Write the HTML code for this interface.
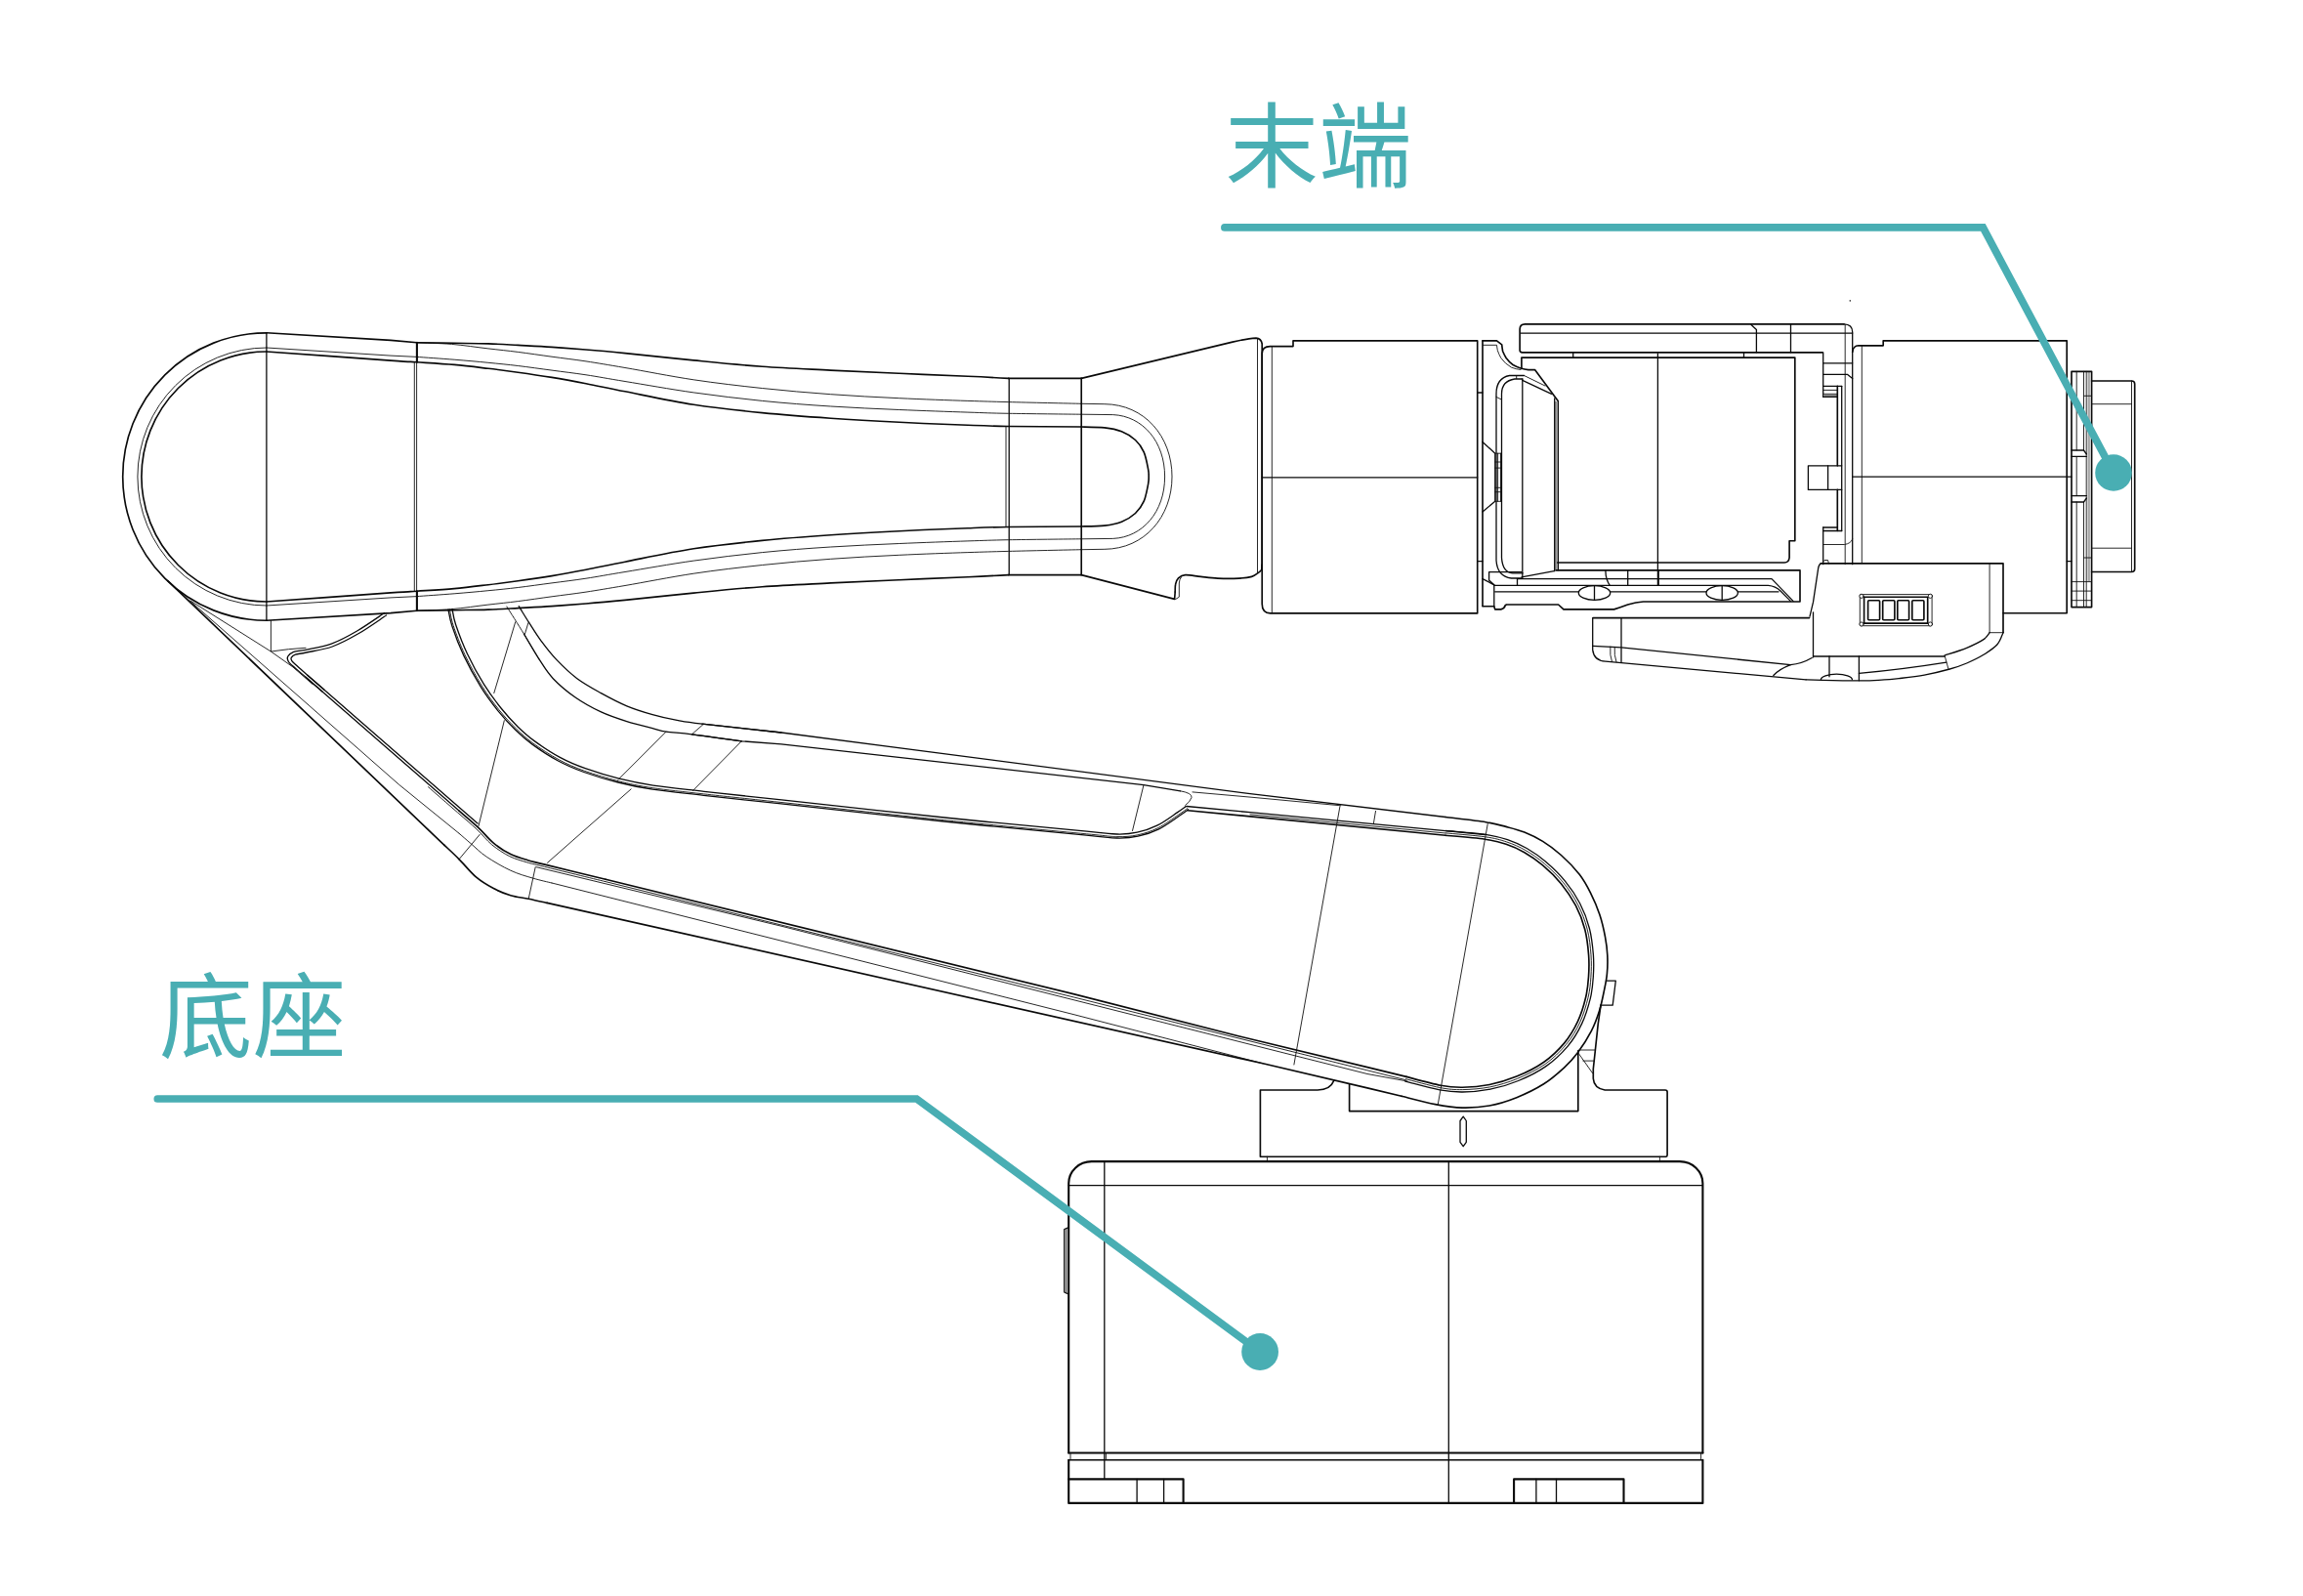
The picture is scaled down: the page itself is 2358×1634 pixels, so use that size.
<!DOCTYPE html>
<html lang="zh">
<head>
<meta charset="utf-8">
<title>末端 底座</title>
<style>
html,body{margin:0;padding:0;background:#fff;}
body{width:2358px;height:1634px;overflow:hidden;position:relative;font-family:"Liberation Sans","Noto Sans CJK SC",sans-serif;}
svg{position:absolute;left:0;top:0;}
.lbl{position:absolute;color:#49aeb3;font-size:95.8px;line-height:1;white-space:nowrap;font-weight:400;}
#l1{left:1254.2px;top:103.6px;}
#l2{left:163px;top:994.6px;}
.k{fill:none;stroke:#0a0a0a;stroke-width:1.65;stroke-linecap:round;stroke-linejoin:round;}
.b{fill:none;stroke:#0a0a0a;stroke-width:2.1;stroke-linecap:round;stroke-linejoin:round;}
.m{fill:none;stroke:#0a0a0a;stroke-width:1.3;stroke-linecap:round;stroke-linejoin:round;}
.t{fill:none;stroke:#111;stroke-width:0.9;stroke-linecap:round;stroke-linejoin:round;}
.c{fill:none;stroke:#49aeb3;stroke-width:7.7;stroke-linecap:round;stroke-linejoin:miter;}
</style>
</head>
<body>
<svg width="2358" height="1634" viewBox="0 0 2358 1634">
<g id="robot">
<!-- forearm -->
<path class="k" d="M272.9 340.8 L400 348.4 L426.9 350.8"/>
<path class="k" d="M272.9 635.2 L400 627.6 L426.9 625.2"/>
<path class="k" d="M426.9 350.8C433.3 350.9 452.9 351.1 465.1 351.3C477.3 351.5 489 351.5 499.9 351.9C510.8 352.2 519.4 352.8 530.3 353.4C541.1 354 553.4 354.6 565 355.4C576.6 356.2 587.5 357 600 358C612.5 359 621.6 359.8 640 361.6C658.4 363.4 686.8 366.6 710.2 368.9C733.6 371.2 757 373.6 780.4 375.3C803.8 377 827.1 377.9 850.5 379.1C873.9 380.3 897.3 381.3 920.7 382.3C944.1 383.3 972.2 384.5 990.9 385.3C1009.5 386.1 1025.6 387 1032.6 387.4"/>
<path class="k" d="M426.9 625.2C433.3 625.1 452.9 624.9 465.1 624.7C477.3 624.5 489 624.5 499.9 624.1C510.8 623.8 519.4 623.2 530.3 622.6C541.1 622 553.4 621.4 565 620.6C576.6 619.8 587.5 619 600 618C612.5 617 621.6 616.2 640 614.4C658.4 612.6 686.8 609.4 710.2 607.1C733.6 604.8 757 602.4 780.4 600.7C803.8 599 827.1 598.1 850.5 596.9C873.9 595.7 897.3 594.7 920.7 593.7C944.1 592.7 972.2 591.6 990.9 590.7C1009.5 589.9 1025.6 589 1032.6 588.6"/>
<path class="k" d="M1032.6 387.4 L1107.2 387.4"/>
<path class="k" d="M1032.6 588.6 L1107.2 588.6"/>
<path class="k" d="M272.9 340.8A147.2 147.2 0 0 0 272.9 635.2"/>
<path class="k" d="M272.9 360C294.1 361.5 374.3 367.3 400 369.1C425.7 370.9 416 370.1 426.9 370.8C437.8 371.5 452.9 372.3 465.1 373.4C477.3 374.5 489 376 499.9 377.3C510.8 378.6 519.4 379.7 530.3 381.2C541.1 382.7 553.4 384.5 565 386.4C576.6 388.3 587.5 390.3 600 392.7C612.5 395.1 621.6 397.2 640 400.8C658.4 404.4 686.8 410.6 710.2 414.2C733.6 417.8 757 420.3 780.4 422.6C803.8 424.9 827.1 426.6 850.5 428.2C873.9 429.8 897.3 431.1 920.7 432.3C944.1 433.5 972.2 434.6 990.9 435.3C1009.5 436 1013.2 436.2 1032.6 436.5C1052 436.8 1094.8 436.9 1107.2 437"/>
<path class="k" d="M272.9 616C294.1 614.5 374.3 608.7 400 606.9C425.7 605.1 416 605.9 426.9 605.2C437.8 604.5 452.9 603.7 465.1 602.6C477.3 601.5 489 600 499.9 598.7C510.8 597.4 519.4 596.3 530.3 594.8C541.1 593.3 553.4 591.5 565 589.6C576.6 587.7 587.5 585.7 600 583.3C612.5 580.9 621.6 578.8 640 575.2C658.4 571.6 686.8 565.4 710.2 561.8C733.6 558.2 757 555.7 780.4 553.4C803.8 551.1 827.1 549.4 850.5 547.8C873.9 546.2 897.3 544.9 920.7 543.7C944.1 542.5 972.2 541.4 990.9 540.7C1009.5 540 1013.2 539.8 1032.6 539.5C1052 539.2 1094.8 539.1 1107.2 539"/>
<path class="k" d="M272.9 360A128 128 0 0 0 272.9 616"/>
<path class="k" d="M1107.2 437C1111.2 437.1 1124 437.1 1130.9 437.9C1137.8 438.7 1143.1 439.7 1148.4 441.8C1153.7 443.9 1158.7 447 1162.5 450.5C1166.3 454 1169 457.8 1171.2 462.8C1173.4 467.8 1174.8 476.2 1175.6 480.4C1176.4 484.6 1176.2 485.5 1176.2 488C1176.2 490.5 1176.4 491.4 1175.6 495.6C1174.8 499.8 1173.4 508.2 1171.2 513.2C1169 518.2 1166.3 522 1162.5 525.5C1158.7 529 1153.7 532.1 1148.4 534.2C1143.1 536.3 1137.8 537.3 1130.9 538.1C1124 538.9 1111.2 538.9 1107.2 539"/>
<path class="t" d="M272.9 356 L400 364.1 L426.9 365.4"/>
<path class="t" d="M272.9 620 L400 611.9 L426.9 610.6"/>
<path class="t" d="M272.9 356A132 132 0 0 0 272.9 620"/>
<path class="t" d="M426.9 350.9C432.8 351.1 450.3 351.4 462.5 352.4C474.7 353.4 488.6 355.6 499.9 356.9C511.2 358.2 519.4 359 530.3 360.4C541.1 361.8 553.4 363.6 565 365.2C576.6 366.8 587.5 368 600 369.9C612.5 371.8 621.6 373.4 640 376.5C658.4 379.6 686.8 385.3 710.2 388.8C733.6 392.3 757 395 780.4 397.5C803.8 400 827.1 402 850.5 403.7C873.9 405.4 897.3 406.6 920.7 407.7C944.1 408.8 972.2 409.8 990.9 410.4C1009.5 411 1013.2 411.1 1032.6 411.6C1052 412.1 1094.8 413 1107.2 413.3"/>
<path class="t" d="M426.9 625.1C432.8 624.9 450.3 624.6 462.5 623.6C474.7 622.6 488.6 620.4 499.9 619.1C511.2 617.8 519.4 617 530.3 615.6C541.1 614.2 553.4 612.4 565 610.8C576.6 609.2 587.5 608 600 606.1C612.5 604.2 621.6 602.6 640 599.5C658.4 596.4 686.8 590.7 710.2 587.2C733.6 583.7 757 581 780.4 578.5C803.8 576 827.1 574 850.5 572.3C873.9 570.6 897.3 569.4 920.7 568.3C944.1 567.2 972.2 566.2 990.9 565.6C1009.5 565 1013.2 564.9 1032.6 564.4C1052 563.9 1094.8 563 1107.2 562.7"/>
<path class="t" d="M426.9 365.4C433.3 365.9 452.9 367.2 465.1 368.2C477.3 369.2 489 370.2 499.9 371.3C510.8 372.4 519.4 373.2 530.3 374.5C541.1 375.8 553.4 377.6 565 379.1C576.6 380.7 587.5 381.9 600 383.8C612.5 385.7 621.6 387.5 640 390.5C658.4 393.5 686.8 398.6 710.2 401.9C733.6 405.2 757 408 780.4 410.4C803.8 412.8 827.1 414.5 850.5 416C873.9 417.5 897.3 418.5 920.7 419.5C944.1 420.5 972.2 421.5 990.9 422.1C1009.5 422.7 1013.2 423 1032.6 423.3C1052 423.6 1094.8 424.1 1107.2 424.2"/>
<path class="t" d="M426.9 610.6C433.3 610.1 452.9 608.8 465.1 607.8C477.3 606.8 489 605.8 499.9 604.7C510.8 603.7 519.4 602.8 530.3 601.5C541.1 600.2 553.4 598.4 565 596.9C576.6 595.4 587.5 594.1 600 592.2C612.5 590.3 621.6 588.5 640 585.5C658.4 582.5 686.8 577.4 710.2 574.1C733.6 570.8 757 568 780.4 565.6C803.8 563.2 827.1 561.5 850.5 560C873.9 558.5 897.3 557.5 920.7 556.5C944.1 555.5 972.2 554.5 990.9 553.9C1009.5 553.3 1013.2 553.1 1032.6 552.7C1052 552.4 1094.8 551.9 1107.2 551.8"/>
<path class="t" d="M1107.2 413.3L1130.9 413.7C1172 414 1200 447 1200 488C1200 529 1172 562 1130.9 562.3L1107.2 562.7"/>
<path class="t" d="M1107.2 424.2L1139.6 424.6C1170 426 1192.6 452 1192.6 488C1192.6 524 1170 550 1139.6 551.4L1107.2 551.8"/>
<path class="m" d="M272.9 340.8 L272.9 635.2"/>
<path class="t" d="M424.3 370.8 L424.3 605.2"/>
<path class="t" d="M426.6 370.8 L426.6 605.2"/>
<path class="b" d="M426.9 350.8 L426.9 370.8"/>
<path class="b" d="M426.9 605.2 L426.9 625.2"/>
<path class="t" d="M1030 436.5 L1030 539.5"/>
<path class="m" d="M1033.2 387.4 L1033.2 588.6"/>
<path class="k" d="M1107.2 387.4 L1107.2 588.6"/>
<path class="k" d="M1107.2 387.4L1262 350.1Q1277 346.6 1286 346.1Q1291.3 346.3 1292.2 352L1292.2 582"/>
<path class="k" d="M1292.2 578C1292.1 578.9 1292.3 581.9 1291.6 583.4C1290.8 584.9 1289.4 585.7 1287.7 586.9C1286 588.1 1284.8 589.5 1281.6 590.4C1278.4 591.3 1274.4 591.8 1268.6 592.1C1262.8 592.4 1253.3 592.4 1246.8 592.1C1240.3 591.8 1235 591 1229.5 590.4C1224 589.8 1217.6 588.4 1213.8 588.6C1210 588.8 1208.2 590.2 1206.5 591.8C1204.8 593.4 1204.1 595.8 1203.6 598.2C1203 600.6 1203.3 604.7 1203.2 606"/>
<path class="k" d="M1203.2 606 L1202.6 613.4 L1107.2 588.6"/>
<path class="t" d="M1287.5 346.5 L1287.5 586.5"/>
<path class="t" d="M1209.5 590.8Q1207.5 593 1207.3 597L1207.3 611.2L1203.5 613.6"/>
<!-- motor1 -->
<path class="k" d="M1292.2 361.6Q1292.5 354.6 1300.4 354.6L1324 354.6L1324 348.9L1512.7 348.9L1512.7 627.9L1300.7 627.9Q1292.2 627.5 1292.2 618.2L1292.2 361.6"/>
<path class="t" d="M1302.3 354.6 L1302.3 627.9"/>
<path class="m" d="M1292.2 488.8 L1512.7 488.8"/>
<path class="m" d="M1512.7 402 L1518 402"/>
<path class="m" d="M1512.7 574.7 L1518 574.7"/>
<!-- connector -->
<path class="k" d="M1518 348.9 L1518 620.5"/>
<path class="k" d="M1518 348.9L1532.5 348.9L1537.7 352.9Q1538 356 1538.6 359.5Q1540 363 1542.1 366.5Q1545 370.5 1549.1 373.5Q1553 375.7 1557 377Q1561 378.2 1564.9 378.6L1571.5 378.6L1595.2 410.4L1595.2 583.7"/>
<path class="t" d="M1518.5 353.3L1532.5 353.3Q1532.8 356 1533.3 358.6Q1534.5 362.5 1536.8 366.5Q1541 372.5 1547.4 376.1Q1552 378 1557 378.5"/>
<path d="M1593.4 411V583" fill="none" stroke="#9a9a9a" stroke-width="3"/>
<path class="m" d="M1591.7 408 L1591.7 584.7"/>
<path class="m" d="M1560.5 384.5L1545.6 384.5Q1532 387 1532 403.3L1532 573.7Q1533 590 1547.4 592L1558.4 592"/>
<path class="m" d="M1558.8 388L1550.9 388Q1537.5 390 1537.5 403.3L1537.5 571Q1538.5 586 1548.7 586.8L1559.2 586.8"/>
<path class="m" d="M1558.8 388 L1558.8 591.6"/>
<path class="t" d="M1560.5 384.5 L1582 395"/>
<path class="m" d="M1558.8 389.3 L1588.6 403.3"/>
<path class="t" d="M1532 406.4 L1537.3 409"/>
<path class="t" d="M1552.7 384.8 L1552.7 387.6"/>
<path class="m" d="M1557.9 590.9 L1591.2 584.7"/>
<path class="m" d="M1518 452.5L1530.8 464.2L1530.8 513.3L1518 523.9"/>
<path class="t" d="M1533.6 464.2 L1533.6 513.3"/>
<path class="t" d="M1536.5 464.2 L1536.5 513.3"/>
<path class="t" d="M1530.8 464.2 L1536.5 464.2"/>
<path class="t" d="M1530.8 473 L1536.5 473"/>
<path class="t" d="M1530.8 479.1 L1536.5 479.1"/>
<path class="t" d="M1530.8 499.3 L1536.5 499.3"/>
<path class="t" d="M1530.8 503.7 L1536.5 503.7"/>
<path class="t" d="M1530.8 513.3 L1536.5 513.3"/>
<!-- block -->
<path class="k" d="M1557.9 377L1557.9 366.1L1837.8 366.1L1837.8 553.7L1832.1 553.7L1832.1 571Q1831.5 576 1827 576L1594.7 576"/>
<path class="m" d="M1697.4 362 L1697.4 598.7"/>
<path class="m" d="M1610.7 360.8 L1610.7 366.1"/>
<path class="m" d="M1785.5 360.8 L1785.5 366.1"/>
<!-- topplate -->
<path class="k" d="M1866 360.8L1558.5 360.8Q1556.1 360.8 1556.1 358.5L1556.1 337Q1556.1 331.8 1561.5 331.8L1888 331.8"/>
<path class="m" d="M1888 331.8Q1896.7 332 1896.7 340L1896.7 577.7"/>
<path class="m" d="M1557 341.1 L1896.7 341.1"/>
<path class="m" d="M1793 332.5L1798.4 337.5L1798.4 360.8"/>
<path class="m" d="M1833.5 332 L1833.5 360.8"/>
<path class="t" d="M1889.2 332.3 L1889.2 577.7"/>
<!-- rightcol -->
<path class="m" d="M1866.7 360.8 L1866.7 406.4"/>
<path class="m" d="M1866.7 371.8 L1896.7 371.8"/>
<path class="m" d="M1866.7 383.3L1891.4 383.3L1896.7 387.5"/>
<path class="m" d="M1866.7 395.4 L1885.7 395.4"/>
<path class="t" d="M1866.7 399.4 L1881 399.4"/>
<path class="t" d="M1866.7 403.3 L1881 403.3"/>
<path d="M1867 405H1881" fill="none" stroke="#8a8a8a" stroke-width="2.2"/>
<path class="m" d="M1866.7 406.4 L1881.3 406.4"/>
<path class="k" d="M1881.3 395.4 L1881.3 476.8"/>
<path class="k" d="M1881.3 501.4 L1881.3 543.5"/>
<path class="m" d="M1885.7 395.4 L1885.7 543.5"/>
<path class="m" d="M1885.7 476.8L1851.4 476.8L1851.4 501.4L1885.7 501.4"/>
<path class="m" d="M1871.6 476.8 L1871.6 501.4"/>
<circle cx="1894.3" cy="307.9" r="0.8" fill="#333"/>
<path class="m" d="M1866.7 540 L1881.3 540"/>
<path class="m" d="M1866.7 543.5 L1885.7 543.5"/>
<path class="m" d="M1866.7 540 L1866.7 577.7"/>
<path class="t" d="M1866.7 557.5L1888.6 557.5Q1895 556.5 1896.7 552"/>
<path class="t" d="M1866.7 575L1868 573.5L1871.5 573.5L1872.5 577"/>
<!-- rail -->
<path class="k" d="M1518 620.7L1529.8 620.7L1530.7 623.9L1536.8 623.9Q1540.5 623 1541.2 619.8L1542.5 619L1595.6 619L1600.9 623.9L1652.6 623.9Q1660 621.5 1666.7 619Q1675 616.3 1682.5 616L1843 616L1843 584.7"/>
<path class="m" d="M1557.9 585.6L1524.6 585.6L1524.6 594L1529.8 598.8L1529.8 620.7"/>
<path class="m" d="M1518 592.6 L1529.8 598.8"/>
<path class="k" d="M1593 583.9 L1843 583.9"/>
<path class="m" d="M1553.5 592.6 L1814 592.6 L1836 615.4"/>
<path class="m" d="M1529.8 599.3L1810.5 599.3Q1818 600 1823 605L1833.3 615.4"/>
<path class="m" d="M1530.7 605.8 L1616.3 605.8"/>
<path class="m" d="M1648.7 605.8 L1747 605.8"/>
<path class="m" d="M1779.4 605.8 L1821 605.8"/>
<path class="m" d="M1553.5 592.6 L1553.5 599.3"/>
<ellipse class="m" cx="1632.5" cy="607" rx="16.2" ry="7.3"/>
<path class="m" d="M1632.5 600.5 L1632.5 614.2"/>
<ellipse class="m" cx="1763.2" cy="607" rx="16.2" ry="7.3"/>
<path class="m" d="M1763.2 600.5 L1763.2 614.2"/>
<path class="m" d="M1643.9 584.5Q1644 593 1648.2 599.3"/>
<path class="m" d="M1666.7 584.5 L1666.7 599.3"/>
<path class="m" d="M1698.2 584.5 L1698.2 599.3"/>
<!-- lowerpiece -->
<path class="k" d="M1631.2 632.6 L1852.6 632.6"/>
<path class="m" d="M1630.7 632.6L1630.7 665.4Q1632 676.5 1643.9 677.2L1849.1 695.8"/>
<path class="m" d="M1660 632.6 L1660 677.8"/>
<path class="m" d="M1630.7 661.4 L1660 662.8 L1833.3 680.7"/>
<path class="t" d="M1648.8 662Q1648 671 1650.5 677.6"/>
<path class="t" d="M1653.2 662.3Q1652.5 671 1655 677.9"/>
<path class="m" d="M1855.2 673.5Q1845 679.5 1833.3 680.7Q1822 685 1815.8 691.5"/>
<!-- housing -->
<path class="m" d="M1853 631.2L1856.5 616.4L1861.7 581.7Q1862.5 577.5 1864.3 576.8"/>
<path class="k" d="M1864.3 576.8L2051 576.8L2051 647.7"/>
<path class="m" d="M2051 647.7C2050 649.7 2048.3 656 2045 659.8C2041.7 663.6 2036.2 667.1 2031 670.3C2025.8 673.5 2019.5 676.5 2013.7 679C2007.9 681.5 2003.5 683 1996.3 685C1989.1 687 1979 689.5 1970.3 691.1C1961.6 692.7 1952 693.7 1944.2 694.6C1936.4 695.5 1930.2 695.9 1923.4 696.3C1916.6 696.7 1913 696.8 1903.4 696.8C1893.8 696.8 1875 696.5 1866 696.3C1857 696.1 1851.9 695.9 1849.1 695.8"/>
<path class="m" d="M1856.5 626.8 L1856.5 672.9"/>
<path class="t" d="M2037.1 577.5 L2037.1 647.7"/>
<path class="t" d="M2037.1 647.7 L2051 647.7"/>
<path class="m" d="M2037.1 647.7C2036.1 648.9 2034.9 652 2031 654.6C2027.1 657.2 2020.4 660.5 2013.7 663.3C2007 666 1994.9 669.8 1991.1 671.1"/>
<path class="m" d="M1856.5 672 L1991.1 672"/>
<path class="t" d="M1991.1 671.1 L1995.1 685.5"/>
<path class="m" d="M1873 672 L1873 692.8"/>
<path class="m" d="M1903.4 672 L1903.4 696.8"/>
<path class="m" d="M1903.4 689.4Q1950 685 1992.8 678.1"/>
<path class="m" d="M1864.4 695.8A16 5.6 0 0 1 1896.4 695.8"/>
<rect class="t" x="1904.3" y="608.6" width="73.8" height="32.1" rx="1"/>
<circle class="t" cx="1906" cy="610.3" r="2.1" style="fill:#fff"/>
<circle class="t" cx="1906" cy="639" r="2.1" style="fill:#fff"/>
<circle class="t" cx="1976.4" cy="610.3" r="2.1" style="fill:#fff"/>
<circle class="t" cx="1976.4" cy="639" r="2.1" style="fill:#fff"/>
<rect class="k" x="1908.6" y="611.2" width="65.1" height="26.9"/>
<rect class="k" x="1912.6" y="614.7" width="12" height="20" rx="1"/>
<rect class="k" x="1927.7" y="614.7" width="12.2" height="20" rx="1"/>
<rect class="k" x="1942.8" y="614.7" width="11.8" height="20" rx="1"/>
<rect class="k" x="1957.8" y="614.7" width="12.1" height="20" rx="1"/>
<!-- motor2 -->
<path class="k" d="M1896.7 360.4Q1897.5 354 1902.8 353.8L1928.2 353.8L1928.2 348.8L2116.2 348.8L2116.2 627.7L2051 627.7"/>
<path class="t" d="M1906.3 353.8 L1906.3 576.8"/>
<path class="m" d="M1896.7 488.2 L2121 488.2"/>
<path class="m" d="M2116.2 574.7 L2121 574.7"/>
<!-- flange -->
<path d="M2138.7 381V595.6" fill="none" stroke="#a8a8a8" stroke-width="2.4"/>
<rect class="k" x="2121" y="380.3" width="20.6" height="241.3"/>
<path class="t" d="M2126.2 380.3 L2126.2 461"/>
<path class="t" d="M2126.2 467.4 L2126.2 507.6"/>
<path class="t" d="M2126.2 514 L2126.2 621.6"/>
<path class="t" d="M2133.5 380.3 L2133.5 461"/>
<path class="t" d="M2133.5 514 L2133.5 621.6"/>
<path class="t" d="M2136.2 380.3 L2136.2 621.6"/>
<path class="m" d="M2121 461 L2133.5 461 L2136.4 465"/>
<path class="m" d="M2121 467.4 L2136.4 467.4"/>
<path class="m" d="M2121 507.6 L2136.4 507.6"/>
<path class="m" d="M2121 514 L2133.5 514 L2136.4 510"/>
<path class="t" d="M2133.5 405.3 L2141.6 405.3"/>
<path class="t" d="M2133.5 571 L2141.6 571"/>
<path class="t" d="M2121 595.6 L2141.6 595.6"/>
<path class="t" d="M2121 605.1 L2141.6 605.1"/>
<path class="t" d="M2121 614.7 L2141.6 614.7"/>
<!-- endcyl -->
<path class="k" d="M2141.6 390L2182.5 390Q2185.7 390 2185.7 393L2185.7 582.5Q2185.7 585.5 2182.5 585.5L2141.6 585.5"/>
<path class="t" d="M2182.5 390 L2182.5 585.5"/>
<path class="t" d="M2141.6 413.7 L2182.5 413.7"/>
<path class="t" d="M2141.6 561.2 L2182.5 561.2"/>
<!-- lowerarm -->
<path class="k" d="M1480 836.5C1486.9 837.4 1511 840.1 1521.3 841.7C1531.6 843.4 1535.4 844.7 1542 846.4C1548.6 848.1 1554.5 849.5 1560.8 852C1567.1 854.5 1573.3 857.5 1579.6 861.4C1585.9 865.3 1592.1 869.9 1598.4 875.5C1604.7 881.1 1612.2 888.9 1617.2 895.3C1622.2 901.7 1625 907.2 1628.5 914.1C1632 921 1635.4 929.1 1637.9 936.6C1640.4 944.1 1642.2 952.3 1643.5 959.2C1644.8 966.1 1645.5 971.7 1645.8 978C1646.1 984.3 1646 990.8 1645.4 996.8C1644.9 1002.8 1643.8 1007.6 1642.5 1013.9C1641.2 1020.2 1639.8 1027.8 1637.6 1034.7C1635.4 1041.7 1633 1048.4 1629.3 1055.6C1625.6 1062.8 1620 1071.5 1615.4 1077.8C1610.8 1084 1607.3 1087.8 1601.5 1093.1C1595.7 1098.4 1588.7 1104.7 1580.6 1109.8C1572.5 1114.9 1562.1 1120 1552.8 1123.7C1543.5 1127.4 1534.2 1130.3 1525 1132C1515.8 1133.7 1506.5 1134.3 1497.3 1134.1C1488 1133.9 1479.9 1132.6 1469.5 1130.6C1459.1 1128.6 1440.8 1123.7 1435 1122.3"/>
<path class="k" d="M171.7 594.6 L455 865.3"/>
<path class="k" d="M455 865.3C457.5 867.7 464.8 874.3 470.2 879.8C475.6 885.3 481.8 893.2 487.7 898.2C493.6 903.2 499.5 906.5 505.3 909.6C511.1 912.7 516.8 914.9 522.8 916.7C528.8 918.5 535 918.9 541.2 920.2C547.4 921.5 556.9 923.7 560 924.4"/>
<path class="k" d="M560 924.4 L1293 1088.8 L1400 1113.9 L1435 1122.3"/>
<path class="m" d="M531.2 620.7C533 623.5 538 631.8 541.8 637.7C545.6 643.6 549.3 649.8 554 656.1C558.7 662.4 563.6 669 569.8 675.4C575.9 681.8 583.3 689 590.9 694.7C598.5 700.4 606.9 704.9 615.4 709.6C623.9 714.3 633 719.1 641.8 722.8C650.6 726.5 659.3 729.1 668.1 731.6C676.9 734.1 685.9 736.1 694.4 737.7C702.9 739.3 701.4 739.2 719 741.2C736.6 743.2 786.5 748.5 800 750"/>
<path class="m" d="M719 741.2 L800 750 L1280 812.6 L1480 836.5"/>
<path class="t" d="M518.9 621C521.8 625.7 530.9 640 536.5 649.1C542.1 658.2 549.7 671 552.3 675.4"/>
<path class="m" d="M536.5 649.1C539.1 653.5 547.3 667.8 552.3 675.4C557.3 683 560.2 688.3 566.3 694.7C572.4 701.1 580.9 708.3 589.1 714C597.3 719.7 606.6 724.8 615.4 728.9C624.2 733 633 735.8 641.8 738.6C650.6 741.4 661.4 743.9 668.1 745.6C674.8 747.4 675.4 748.1 682.1 749.1C688.8 750.1 695.5 750.2 708.4 751.8C721.3 753.4 750.8 757.6 759.3 758.8"/>
<path class="m" d="M708.4 751.8 L759.3 758.8 L800 761.9 L1171 803.6 L1208.5 809.8"/>
<path class="t" d="M1208.5 809.8Q1221 812 1220 816.5Q1218.5 821 1213.7 824.4"/>
<path class="t" d="M193.7 614.4 L408.8 803.5 L470 853.2"/>
<path class="t" d="M470 853.2C472.1 855 477.8 860 482.5 864C487.2 868 491.5 872.7 498.2 877.2C504.9 881.7 514.9 887.6 522.8 891.2C530.7 894.9 538.6 897 545.6 899.1C552.6 901.2 561.8 903.2 565 904"/>
<path class="t" d="M565 904 L1100 1038.8 L1293 1088.8"/>
<path class="k" d="M1480 855.3C1486.7 855.9 1510.1 857.7 1520.4 859.2C1530.7 860.7 1535.3 862 1542 864.3C1548.7 866.5 1554.5 869.1 1560.8 872.7C1567.1 876.3 1573.3 880.6 1579.6 885.9C1585.9 891.2 1592.8 897.8 1598.4 904.7C1604 911.6 1609.3 919.4 1613.4 927.2C1617.5 935 1620.6 943.2 1622.8 951.7C1625 960.2 1626 970 1626.6 978C1627.2 986 1627 992.9 1626.5 1000C1626 1007.1 1625.5 1013.1 1623.7 1020.8C1621.9 1028.5 1619.1 1038 1615.4 1045.9C1611.7 1053.8 1607.3 1061.2 1601.5 1068.1C1595.7 1075 1588.7 1081.8 1580.6 1087.5C1572.5 1093.2 1562.1 1098.3 1552.8 1102.1C1543.5 1105.9 1534.2 1108.7 1525 1110.5C1515.8 1112.3 1505.6 1113.1 1497.3 1113.2C1489 1113.3 1484.5 1113 1475 1111.2C1465.5 1109.4 1445.8 1103.9 1440 1102.4"/>
<path class="t" d="M1480.2 852.9C1487 853.6 1510.3 855.3 1520.7 856.8C1531.2 858.3 1535.9 859.7 1542.8 862C1549.6 864.3 1555.6 866.9 1562 870.6C1568.4 874.3 1574.8 878.6 1581.2 884.1C1587.5 889.5 1594.5 896.2 1600.3 903.2C1606 910.2 1611.4 918.1 1615.5 926.1C1619.7 934.1 1622.9 942.5 1625.1 951.1C1627.4 959.7 1628.4 969.6 1629 977.8C1629.6 986 1629.4 992.9 1628.9 1000.2C1628.4 1007.4 1627.9 1013.6 1626 1021.4C1624.1 1029.2 1621.4 1038.9 1617.6 1046.9C1613.8 1055 1609.3 1062.5 1603.3 1069.6C1597.4 1076.7 1590.2 1083.7 1582 1089.5C1573.7 1095.2 1563.1 1100.4 1553.7 1104.3C1544.3 1108.2 1534.9 1111 1525.5 1112.9C1516.1 1114.7 1505.8 1115.5 1497.3 1115.6C1488.8 1115.7 1484.2 1115.4 1474.6 1113.6C1464.9 1111.7 1445.3 1106.2 1439.4 1104.7"/>
<path class="m" d="M1480.5 850.5C1487.2 851.2 1510.6 852.9 1521.1 854.4C1531.6 856 1536.5 857.4 1543.5 859.7C1550.5 862.1 1556.7 864.8 1563.2 868.5C1569.7 872.3 1576.2 876.7 1582.7 882.2C1589.2 887.8 1596.3 894.5 1602.1 901.7C1607.9 908.8 1613.4 916.8 1617.7 925C1621.9 933.1 1625.2 941.7 1627.4 950.5C1629.7 959.3 1630.7 969.3 1631.4 977.6C1632 985.9 1631.8 992.9 1631.3 1000.3C1630.8 1007.7 1630.3 1014 1628.4 1021.9C1626.4 1029.9 1623.6 1039.7 1619.7 1047.9C1615.9 1056.1 1611.2 1063.9 1605.2 1071.2C1599.1 1078.4 1591.8 1085.5 1583.3 1091.4C1574.9 1097.3 1564.2 1102.6 1554.6 1106.5C1545.1 1110.5 1535.5 1113.3 1525.9 1115.2C1516.4 1117.1 1506 1117.9 1497.4 1118C1488.7 1118.1 1483.9 1117.7 1474.1 1115.9C1464.4 1114.1 1444.7 1108.5 1438.8 1107.1"/>
<path class="k" d="M470 830.1C473.2 832.9 483.6 841.6 489.5 847.1C495.4 852.6 499.8 858.6 505.3 863.2C510.9 867.8 516.9 871.7 522.8 874.6C528.6 877.5 534.5 879 540.4 880.7C546.2 882.5 544.6 881.8 557.9 885.1C571.2 888.4 609.6 897.8 620 900.3"/>
<path class="k" d="M620 900.3 L1100 1017.9 L1270 1061.2 L1400 1092.6 L1440 1102.4"/>
<path class="m" d="M313 693.3 L470 830.1"/>
<path class="m" d="M314.8 691.3 L489 843.1"/>
<path class="t" d="M438.5 805.7C443.5 810.1 460.3 824.7 468.5 831.8C476.7 839 482 843.3 487.9 848.8C493.8 854.3 498.2 860.3 503.8 865C509.5 869.6 515.8 873.7 521.8 876.7C527.8 879.6 533.8 881.1 539.7 882.9C545.7 884.7 544.1 884.1 557.4 887.3C570.6 890.6 609.1 900 619.5 902.5"/>
<path class="t" d="M619.5 902.5 L1099.2 1020.9 L1399.2 1095.6 L1439.2 1105.6"/>
<path class="t" d="M549.1 887.7 L800 948.2 L1100 1023.9 L1400 1099.5 L1441 1107"/>
<path class="m" d="M1214.8 825.5 L1280 831.7 L1480 850.6 L1520.4 854.5"/>
<path class="k" d="M1216 829.8 L1280 835.9 L1480 855.3"/>
<path class="t" d="M1280 833.8 L1480 853"/>
<path class="t" d="M1221 810.9 L1280 816.1 L1372.8 824.8"/>
<path class="m" d="M459 624.1C459.7 627 460.3 633.2 462.9 641C465.5 648.9 469.9 660.8 474.8 671.1C479.7 681.4 486.3 693.4 492.1 702.9C497.9 712.3 503.9 720.2 509.8 727.6C515.7 734.9 521.6 741.3 527.5 747C533.4 752.8 537.8 756.8 545.1 762.1C552.4 767.4 562.7 774.2 571.5 779C580.2 783.7 587.6 786.8 597.8 790.5C608.1 794.2 621.2 798.1 632.9 801C644.6 804 653.5 805.9 668.1 808.1C682.7 810.3 698.5 811.8 720.5 814.3C742.4 816.8 758.8 818.4 799.8 822.9C840.8 827.3 914.4 835.6 966.5 841C1018.6 846.4 1082.8 852.4 1112.4 855.2C1142 858 1135.1 857.8 1143.9 858C1152.6 858.2 1158 857.7 1165.1 856.2C1172.2 854.6 1179.4 852.3 1186.5 848.8C1193.5 845.3 1202.5 838.6 1207.5 835.3C1212.5 831.9 1215.1 829.9 1216.6 828.8"/>
<path class="m" d="M463 623.3C463.6 626 464.1 632.1 466.7 639.8C469.3 647.4 473.6 659.2 478.4 669.3C483.2 679.5 489.7 691.5 495.5 700.7C501.3 710 507.2 717.8 513 725C518.8 732.3 524.5 738.5 530.3 744.2C536.1 749.8 540.3 753.7 547.5 758.9C554.7 764.1 564.7 770.8 573.3 775.4C582 780.1 589.1 783.1 599.2 786.7C609.3 790.3 622.3 794.3 633.9 797.2C645.5 800.1 654.2 801.9 668.7 804.1C683.2 806.3 699 807.8 720.9 810.3C742.8 812.8 759.2 814.5 800.2 818.9C841.2 823.4 914.8 831.6 966.9 837C1019 842.4 1083.3 848.4 1112.8 851.2C1142.3 854 1135.4 853.8 1143.9 854C1152.5 854.2 1157.5 853.7 1164.3 852.2C1171.1 850.8 1177.9 848.6 1184.7 845.2C1191.6 841.8 1200.4 835.2 1205.3 831.9C1210.2 828.7 1212.7 826.6 1214.2 825.6"/>
<path class="t" d="M460.4 623.8C461.1 626.6 461.6 632.8 464.2 640.6C466.8 648.4 471.2 660.2 476.1 670.5C480.9 680.7 487.5 692.7 493.3 702.1C499.1 711.5 505.1 719.4 510.9 726.7C516.8 734 522.6 740.3 528.5 746C534.3 751.7 538.7 755.7 545.9 761C553.2 766.3 563.4 773 572.1 777.7C580.8 782.4 588.1 785.5 598.3 789.2C608.5 792.8 621.6 796.8 633.3 799.7C644.9 802.6 653.7 804.5 668.3 806.7C682.9 808.9 698.7 810.4 720.6 812.9C742.6 815.4 758.9 817 799.9 821.5C840.9 825.9 914.5 834.2 966.6 839.6C1018.7 845 1083 851 1112.5 853.8C1142.1 856.6 1135.2 856.4 1143.9 856.6C1152.6 856.8 1157.8 856.3 1164.8 854.8C1171.8 853.3 1178.9 851 1185.9 847.5C1192.8 844.1 1201.8 837.4 1206.7 834.1C1211.7 830.8 1214.2 828.8 1215.7 827.7"/>
<path class="t" d="M527.7 636.8 L505.8 709.6"/>
<path class="t" d="M516.3 737.7 L490 845.6"/>
<path class="t" d="M491.2 854.4 L469.8 880"/>
<path class="t" d="M540.9 637.7 L537.4 649.1"/>
<path class="t" d="M719.8 741.8 L708.4 751.8"/>
<path class="t" d="M682.1 749.1 L633 798.2"/>
<path class="t" d="M646.1 807.9 L560.5 883.3"/>
<path class="t" d="M759.3 758.8 L709.3 809.6"/>
<path class="t" d="M548.2 887.7 L541.2 920.2"/>
<path class="t" d="M1171 803.6 L1159.5 850.5"/>
<path class="t" d="M1371.9 825.7 L1324.9 1090"/>
<path class="t" d="M1408.5 830.4 L1406.3 843.6"/>
<path class="t" d="M1523.2 843.6 L1472.3 1130.6"/>
<path class="m" d="M330 708.1C327.2 705.6 318 697.6 313 693.3C308 688.9 302.9 684.6 300 682C297.1 679.4 296.3 679.1 295.4 677.5C294.5 675.9 293.7 674 294.6 672.3C295.5 670.6 297.6 668.6 300.7 667.4C303.8 666.2 306.6 666.7 313 665.3C319.4 663.9 330.5 662.3 339.3 659.1C348.1 655.9 356.5 651.3 365.6 646C374.7 640.7 389 630.6 393.7 627.5"/>
<path class="m" d="M331.8 706.1C329 703.6 319.6 695.5 314.8 691.3C310.1 687.1 306 683.5 303.3 681C300.6 678.5 299.7 677.9 298.8 676.6C297.9 675.3 297.6 674.5 298.2 673.4C298.8 672.3 299.8 671.1 302.4 670.2C305 669.3 307.3 669.4 313.6 668C319.9 666.6 331.3 665.2 340.2 662C349.1 658.8 357.7 654.1 366.9 648.8C376.1 643.5 390.7 633.1 395.5 630"/>
<path class="t" d="M277.4 635.4 L277.4 667 L295.4 664.7 L313 663.3"/>
<path class="t" d="M195.4 615.3 L277.4 667 L300 683 L320 700.5"/>
<!-- turret -->
<path class="k" d="M1365.8 1106.3Q1362 1116 1349.1 1116L1290.4 1116L1290.4 1184.2L1705.5 1184.2Q1707.1 1184.2 1707.1 1182.5L1707.1 1118Q1707.1 1116 1705 1116L1643.2 1116Q1632 1114 1631.3 1104.2L1631.3 1094.5L1633.4 1075L1636.2 1048.6L1639 1029.2"/>
<path class="k" d="M1381.6 1110L1381.6 1137.6L1615.8 1137.6L1615.8 1075.7"/>
<path class="m" d="M1644.5 1004.2 L1654.3 1004.2 L1651.2 1029.2 L1639 1029.2"/>
<path class="t" d="M1616.8 1075 L1632.7 1075"/>
<path class="t" d="M1620.9 1086.1 L1631.8 1086.1"/>
<path class="t" d="M1615.8 1077.8 L1630.6 1098.7"/>
<path class="m" d="M1498.2 1143.1L1501.3 1147.5L1501.3 1169.3L1498.2 1173.7L1495 1169.3L1495 1147.5Z"/>
<path class="t" d="M1297.4 1184.2 L1297.4 1189.1"/>
<path class="t" d="M1699.4 1184.2 L1699.4 1189.1"/>
<!-- base -->
<path class="b" d="M1094.2 1487.5L1094.2 1211.5A23.5 22.4 0 0 1 1117.7 1189.1L1719.9 1189.1A23.5 22.4 0 0 1 1743.4 1211.5L1743.4 1487.5"/>
<path class="m" d="M1094.2 1213.6 L1743.4 1213.6"/>
<path class="m" d="M1130.8 1189.1 L1130.8 1514.4"/>
<path class="m" d="M1483.3 1189.1 L1483.3 1538.9"/>
<path class="b" d="M1094.2 1487.5 L1743.4 1487.5"/>
<path class="k" d="M1094.2 1494.7 L1743.4 1494.7"/>
<path class="t" d="M1096 1487.5 L1096 1494.7"/>
<path class="t" d="M1741.6 1487.5 L1741.6 1494.7"/>
<path class="t" d="M1132.4 1487.5 L1132.4 1494.7"/>
<path class="b" d="M1094.2 1494.7L1094.2 1538.9L1743.4 1538.9L1743.4 1494.7"/>
<path class="b" d="M1094.2 1514.4L1211.6 1514.4L1211.6 1538.9"/>
<path class="m" d="M1164.1 1514.4 L1164.1 1538.9"/>
<path class="m" d="M1191.6 1514.4 L1191.6 1538.9"/>
<path class="b" d="M1550.1 1538.9L1550.1 1514.4L1662.5 1514.4L1662.5 1538.9"/>
<path class="m" d="M1572.9 1514.4 L1572.9 1538.9"/>
<path class="m" d="M1593.5 1514.4 L1593.5 1538.9"/>
<path class="m" d="M1094.2 1256.6L1089.7 1258.5L1089.7 1323L1094.2 1325"/>
<path class="t" d="M1091.8 1258 L1091.8 1324"/>
</g>
<g id="callouts">
<path class="c" d="M1253.9 232.9H2030.4L2164 484"/>
<circle cx="2164" cy="484" r="18.8" fill="#49aeb3"/>
<path class="c" d="M161.3 1125H938.5L1290 1384"/>
<circle cx="1290.1" cy="1384" r="18.9" fill="#49aeb3"/>
</g>
</svg>
<div class="lbl" id="l1">末端</div>
<div class="lbl" id="l2">底座</div>
</body>
</html>
